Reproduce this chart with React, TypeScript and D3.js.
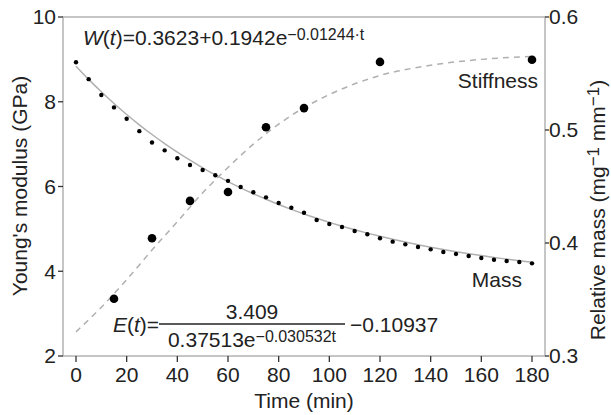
import React from 'react';
import * as d3 from 'd3';

// mass measurements, every 5 min (right axis)
const massTime = [0, 5, 10, 15, 20, 25, 30, 35, 40, 45, 50, 55, 60, 65, 70, 75, 80, 85, 90,
  95, 100, 105, 110, 115, 120, 125, 130, 135, 140, 145, 150, 155, 160, 165, 170, 175, 180];
const massValues = [0.560, 0.545, 0.531, 0.520, 0.510, 0.499, 0.489, 0.482, 0.475, 0.469,
  0.4646, 0.460, 0.455, 0.4496, 0.4449, 0.4404, 0.4354, 0.4312, 0.4268, 0.4204, 0.4168,
  0.4142, 0.4106, 0.4077, 0.4042, 0.4012, 0.3988, 0.3965, 0.3944, 0.392, 0.3903, 0.3885,
  0.3867, 0.3852, 0.3841, 0.3832, 0.382];

// W(t) = a + b * exp(-k t), coefficients as printed on the chart
const wCoef = [0.3623, 0.1942, 0.01244];

// stiffness measurements (left axis)
const stiffTime = [15, 30, 45, 60, 75, 90, 120, 180];
const stiffValues = [3.35, 4.78, 5.66, 5.87, 7.4, 7.85, 8.94, 8.99];

// fitted stiffness curve
const fitTime = [0, 10, 20, 30, 40, 50, 60, 70, 80, 90, 100, 120, 140, 160, 180];
const fitValues = [2.57, 3.15, 3.8, 4.5, 5.17, 5.85, 6.45, 7.0, 7.47, 7.86, 8.17, 8.62, 8.86, 9.0, 9.07];

const xTicks = [0, 20, 40, 60, 80, 100, 120, 140, 160, 180];
const leftTicks = [2, 4, 6, 8, 10];
const rightTicks = [0.3, 0.4, 0.5, 0.6];

const W = 611;
const H = 415;
const left = 63, right = 545, top = 17, bottom = 356;
const font = '"Liberation Sans", Arial, Helvetica, sans-serif';
const frame = '#b3b3b3';
const tickColor = '#333';

const App = () => {
  const x = d3.scaleLinear().domain([0, 180]).range([76, 532]);
  const yL = d3.scaleLinear().domain([2, 10]).range([bottom, top]);
  const yR = d3.scaleLinear().domain([0.3, 0.6]).range([bottom, top]);

  const massFit = massTime.map(t => [t, wCoef[0] + wCoef[1] * Math.exp(-wCoef[2] * t)]);
  const massLine = d3.line<number[]>().x(d => x(d[0])).y(d => yR(d[1])).curve(d3.curveMonotoneX);
  const stiffLine = d3.line<number>().x((_, i) => x(fitTime[i])).y(d => yL(d)).curve(d3.curveMonotoneX);

  return (
    <svg width={W} height={H} style={{ position: 'absolute', left: 0, top: 0, background: '#fff' }}
      fontFamily={font}>
      {/* frame */}
      <rect x={left} y={top} width={right - left} height={bottom - top} fill="none" stroke={frame} strokeWidth={1.5} />

      {/* curves */}
      <path d={stiffLine(fitValues) || ''} fill="none" stroke="#b0b0b0" strokeWidth={1.5} strokeDasharray="6,5" />
      <path d={massLine(massFit) || ''} fill="none" stroke="#b0b0b0" strokeWidth={1.5} />

      {massValues.map((v, i) => (
        <circle key={'m' + i} cx={x(massTime[i])} cy={yR(v)} r={2.2} fill="#000" />
      ))}
      {stiffValues.map((v, i) => (
        <circle key={'s' + i} cx={x(stiffTime[i])} cy={yL(v)} r={4.3} fill="#000" />
      ))}

      {/* left axis */}
      {leftTicks.map(t => (
        <g key={'l' + t}>
          <line x1={left - 5} x2={left} y1={yL(t)} y2={yL(t)} stroke={tickColor} strokeWidth={1.3} />
          <text x={left - 7} y={yL(t)} dy="0.35em" textAnchor="end" fontSize={21} fill="#222">{t}</text>
        </g>
      ))}
      {/* right axis */}
      {rightTicks.map(t => (
        <g key={'r' + t}>
          <line x1={right} x2={right + 4} y1={yR(t)} y2={yR(t)} stroke={tickColor} strokeWidth={1.3} />
          <text x={right + 4} y={yR(t)} dy="0.35em" textAnchor="start" fontSize={21} fill="#222">{t.toFixed(1)}</text>
        </g>
      ))}
      {/* bottom axis */}
      {xTicks.map(t => (
        <g key={'x' + t}>
          <line x1={x(t)} x2={x(t)} y1={bottom} y2={bottom + 6} stroke={tickColor} strokeWidth={1.3} />
          <text x={x(t)} y={382} textAnchor="middle" fontSize={21} fill="#222">{t}</text>
        </g>
      ))}

      {/* axis titles */}
      <text x={304} y={408} textAnchor="middle" fontSize={21} fill="#222">Time (min)</text>
      <text transform="translate(27,186) rotate(-90)" textAnchor="middle" fontSize={21} fill="#222">
        Young's modulus (GPa)
      </text>
      <text transform="translate(605,210) rotate(-90)" textAnchor="middle" fontSize={21} fill="#222">
        Relative mass (mg<tspan fontSize={17} dy={-6}>−1</tspan><tspan dy={6}> mm</tspan>
        <tspan fontSize={17} dy={-6}>−1</tspan><tspan dy={6}>)</tspan>
      </text>

      {/* series labels */}
      <text x={538} y={88} textAnchor="end" fontSize={21} fill="#222">Stiffness</text>
      <text x={522} y={287} textAnchor="end" fontSize={21} fill="#222">Mass</text>

      {/* W(t) formula */}
      <text x={83} y={45} fontSize={21} fill="#222">
        <tspan fontStyle="italic">W</tspan>(<tspan fontStyle="italic">t</tspan>)=0.3623+0.1942e
        <tspan fontSize={16} dy={-5}>−0.01244·t</tspan>
      </text>

      {/* E(t) formula */}
      <text x={113} y={332} fontSize={21} fill="#222">
        <tspan fontStyle="italic">E</tspan>(<tspan fontStyle="italic">t</tspan>)=
      </text>
      <line x1={159} x2={345} y1={324} y2={324} stroke="#222" strokeWidth={1.5} />
      <text x={252} y={319} textAnchor="middle" fontSize={21} fill="#222">3.409</text>
      <text x={252} y={347} textAnchor="middle" fontSize={21} fill="#222">
        0.37513e<tspan fontSize={16} dy={-5}>−0.030532t</tspan>
      </text>
      <text x={350} y={332} fontSize={21} fill="#222">−0.10937</text>
    </svg>
  );
};

export default App;
